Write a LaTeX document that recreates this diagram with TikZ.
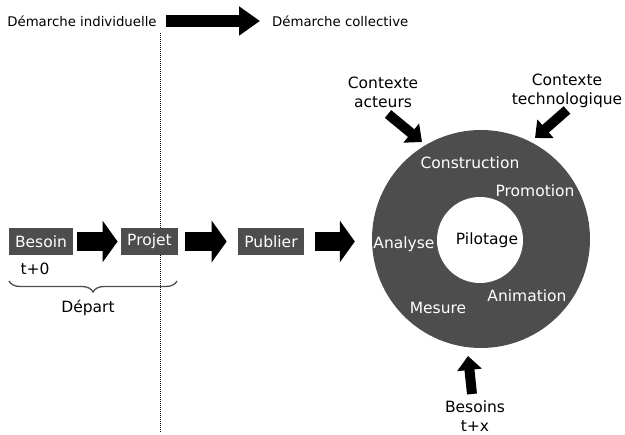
\documentclass[tikz,border=0pt]{standalone}
\usepackage{fontspec}
\setmainfont{DejaVu Sans}
\usetikzlibrary{arrows.meta,decorations.pathreplacing}
\definecolor{boxgray}{HTML}{4D4D4D}
\begin{document}
\begin{tikzpicture}[x=1pt,y=-1pt,
  txt/.style={font=\fontsize{15.5}{19}\selectfont, inner sep=0pt, align=center},
  toptxt/.style={font=\fontsize{13.3}{16}\selectfont, inner sep=0pt},
  wtxt/.style={txt, text=white},
  boxnode/.style={txt, fill=boxgray, text=white, minimum height=27pt, inner xsep=6.5pt, inner ysep=0pt},
  bigarrow/.style={line width=19pt, -{Triangle[width=41pt,length=15pt]}},
  toparrow/.style={line width=12pt, -{Triangle[width=28pt,length=21pt]}},
  ctxarrow/.style={line width=10pt, -{Triangle[width=24pt,length=14pt]}}]
\useasboundingbox (0,0) rectangle (625,435);
% top
\node[toptxt] (indiv) at (82,21) {Démarche individuelle};
\node[toptxt, anchor=west] (coll) at (272,21) {Démarche collective};
\draw[toparrow, shorten <=9pt, shorten >=12pt] (indiv.east) -- (coll.west);
% dotted separator
\coordinate (dtop) at (160,33);
\coordinate (dbot) at (160,432);
\draw[dash pattern=on 1pt off 1pt, line width=1pt] (dtop) -- (dbot);
% boxes
\node[boxnode] (besoin) at (41,241.5) {Besoin};
\node[boxnode] (projet) at (149.5,241.5) {Projet};
\node[boxnode] (publier) at (271,241.5) {Publier};
% ring
\node[circle, fill=boxgray, minimum size=218pt, inner sep=0pt] (ring) at (481,239) {};
\node[circle, fill=white, minimum size=86pt, inner sep=0pt] (pilot) at (480,240) {};
\node[txt] at (487,240) {Pilotage};
\node[wtxt] at (470,163) {Construction};
\node[wtxt] at (535,191) {Promotion};
\node[wtxt] at (404,244) {Analyse};
\node[wtxt] at (527,296) {Animation};
\node[wtxt] at (438,308) {Mesure};
% horizontal arrows
\draw[bigarrow, shorten <=3pt, shorten >=3pt] (besoin) -- (projet);
\draw[bigarrow, shorten <=7pt, shorten >=11pt] (projet) -- (publier);
\draw[bigarrow, shorten <=11pt, shorten >=17pt] (publier.east) -- (ring.west |- publier.east);
% labels
\node[txt] (t0) at (35,269) {t+0};
\draw[line width=1.3pt, boxgray, decorate, decoration={brace, mirror, amplitude=11pt}] (9,281) -- (177,281);
\node[txt] (depart) at (88,308) {Départ};
% context
\node[txt] (acteurs) at (383,92) {Contexte\\acteurs};
\node[txt] (techno) at (567,91) {Contexte\\technologique};
\node[txt] (besoins) at (475,416) {Besoins\\t+x};
\coordinate (tipA) at (422,142);
\coordinate (tipT) at (535,138);
\coordinate (tipB) at (468,356);
\draw[ctxarrow] (388,114) -- (tipA);
\draw[ctxarrow] (567,110) -- (tipT);
\draw[ctxarrow] (472,394) -- (tipB);
\end{tikzpicture}
\end{document}
